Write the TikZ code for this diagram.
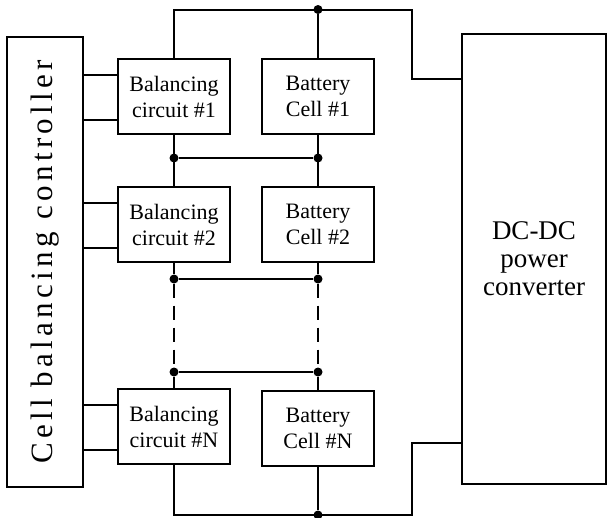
\documentclass[tikz,border=0pt]{standalone}
\usepackage{fontspec}
\setmainfont{Liberation Serif}
\newfontfamily\ctrlfont[LetterSpace=14]{Liberation Serif}
\usetikzlibrary{calc,positioning}

\begin{document}
\begin{tikzpicture}[
  x=1pt, y=-1pt,
  blkbox/.style={draw=black, line width=2pt, align=center, inner sep=0pt,
                 font=\fontsize{22}{26}\selectfont},
  balbox/.style={blkbox, minimum width=112pt, minimum height=75pt},
  cellbox/.style={blkbox, minimum width=112pt, minimum height=75pt},
  ctrlbox/.style={blkbox, minimum width=76pt, minimum height=450pt},
  convbox/.style={blkbox, minimum width=144pt, minimum height=450pt,
                  font=\fontsize{27}{28}\selectfont},
  wire/.style={line width=2pt, draw=black},
  gapwire/.style={wire, dash pattern=on 14pt off 8pt},
  junc/.style={circle, fill=black, inner sep=0pt, minimum size=9pt}
]
  \useasboundingbox (0,0) rectangle (607,517);

  \node[ctrlbox] (ctrl) at (45,262) {};
  \node[rotate=90, font=\ctrlfont\fontsize{31}{36}\selectfont] (ctrltext)
    at (ctrl) {Cell balancing controller};

  \node[balbox] (bal1) at (174,96.5) {Balancing\\circuit \#1};
  \node[balbox] (bal2) at (174,224.5) {Balancing\\circuit \#2};
  \node[balbox] (balN) at (174,426.5) {Balancing\\circuit \#N};
  \node[cellbox] (cell1) at (318,96.5) {Battery\\Cell \#1};
  \node[cellbox] (cell2) at (318,224.5) {Battery\\Cell \#2};
  \node[cellbox] (cellN) at (318,428.5) {Battery\\Cell \#N};

  \node[convbox] (conv) at (534,259) {DC-DC\\power\\converter};

  \coordinate (topl) at (174,9.5);
  \coordinate (topr) at (412,9.5);
  \coordinate (botl) at (174,515);
  \coordinate (botr) at (412,515);
  \node[junc] (jtop) at (318,9.5) {};
  \node[junc] (jbot) at (318,515) {};
  \node[junc] (j1a) at (174,158) {};
  \node[junc] (j1b) at (318,158) {};
  \node[junc] (j2a) at (174,279) {};
  \node[junc] (j2b) at (318,279) {};
  \node[junc] (j3a) at (174,372) {};
  \node[junc] (j3b) at (318,372) {};

  % string of cells
  \draw[wire] (bal1.north) -- (topl) -- (topr) |- ([yshift=-46pt]conv.north west);
  \draw[wire] (jtop) -- (cell1.north);
  \draw[wire] (bal1.south) -- (bal2.north);
  \draw[wire] (cell1.south) -- (cell2.north);
  \draw[wire] (j1a) -- (j1b);
  \draw[wire] (bal2.south) -- (j2a) -- (j2b) -- (cell2.south);
  \draw[gapwire] (j2a) -- (j3a);
  \draw[gapwire] (j2b) -- (j3b);
  \draw[wire] (balN.north) -- (j3a) -- (j3b) -- (cellN.north);
  \draw[wire] (balN.south) -- (botl) -- (botr) |- ([yshift=42pt]conv.south west);
  \draw[wire] (cellN.south) -- (jbot);

  % controller links
  \foreach \b in {bal1,bal2,balN} {
    \draw[wire] ([yshift=22pt]\b.west) -- +(-35pt,0);
    \draw[wire] ([yshift=-23pt]\b.west) -- +(-35pt,0);
  }
\end{tikzpicture}
\end{document}
